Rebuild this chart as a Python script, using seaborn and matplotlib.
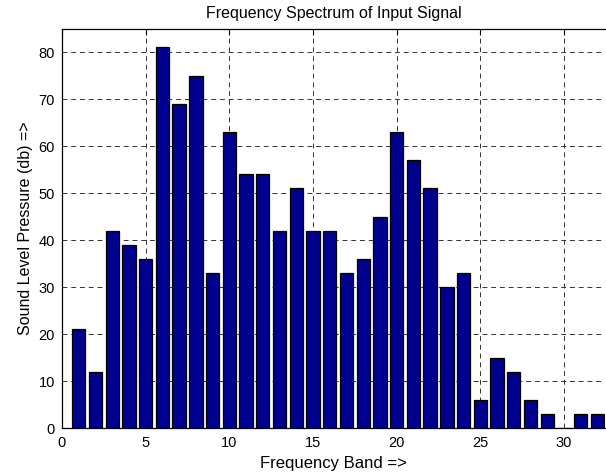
import matplotlib
matplotlib.use("Agg")
import matplotlib.pyplot as plt
import seaborn as sns
import pandas as pd

band = list(range(1, 33))
level = [21, 12, 42, 39, 36, 81, 69, 75, 33, 63, 54, 54, 42, 51, 42, 42,
         33, 36, 45, 63, 57, 51, 30, 33, 6, 15, 12, 6, 3, 0, 3, 3]
x_ticks = [0, 5, 10, 15, 20, 25, 30]
y_ticks = [0, 10, 20, 30, 40, 50, 60, 70, 80]

sns.set_style("white")
plt.rcParams["font.family"] = ["Liberation Sans", "DejaVu Sans"]
plt.rcParams["text.color"] = "black"
plt.rcParams["axes.labelcolor"] = "black"

df = pd.DataFrame({"band": band, "level": level})

fig = plt.figure(figsize=(6.06, 4.76), dpi=100)
ax = fig.add_axes([62 / 606, 48 / 476, (605 - 62) / 606, (428 - 29) / 476])

sns.barplot(data=df, x="band", y="level", native_scale=True, width=0.8,
            color="#00008F", saturation=1, edgecolor="black", linewidth=0.9,
            ax=ax, zorder=3)

ax.set_xlim(0, 32.45)
ax.set_ylim(0, 84.9)
ax.set_xticks(x_ticks)
ax.set_yticks(y_ticks)
ax.grid(True, color="#333333", linestyle=(0, (5, 4)), linewidth=0.7, zorder=0)
ax.set_axisbelow(True)
ax.tick_params(direction="in", length=4, width=0.8, top=True, right=False,
               labelsize=10.5, colors="black")
ax.tick_params(axis="x", pad=6)
ax.tick_params(axis="y", pad=5)
for s in ["left", "bottom", "top"]:
    ax.spines[s].set_visible(True)
    ax.spines[s].set_color("black")
    ax.spines[s].set_linewidth(0.9)
ax.spines["right"].set_visible(False)

ax.set_title("Frequency Spectrum of Input Signal", fontsize=11.5, pad=8,
             color="black")
ax.set_xlabel("Frequency Band =>", fontsize=12, labelpad=4, color="black")
ax.set_ylabel("Sound Level Pressure (db) =>", fontsize=11.5, labelpad=4,
              color="black")

fig.savefig("out.png", dpi=100)
